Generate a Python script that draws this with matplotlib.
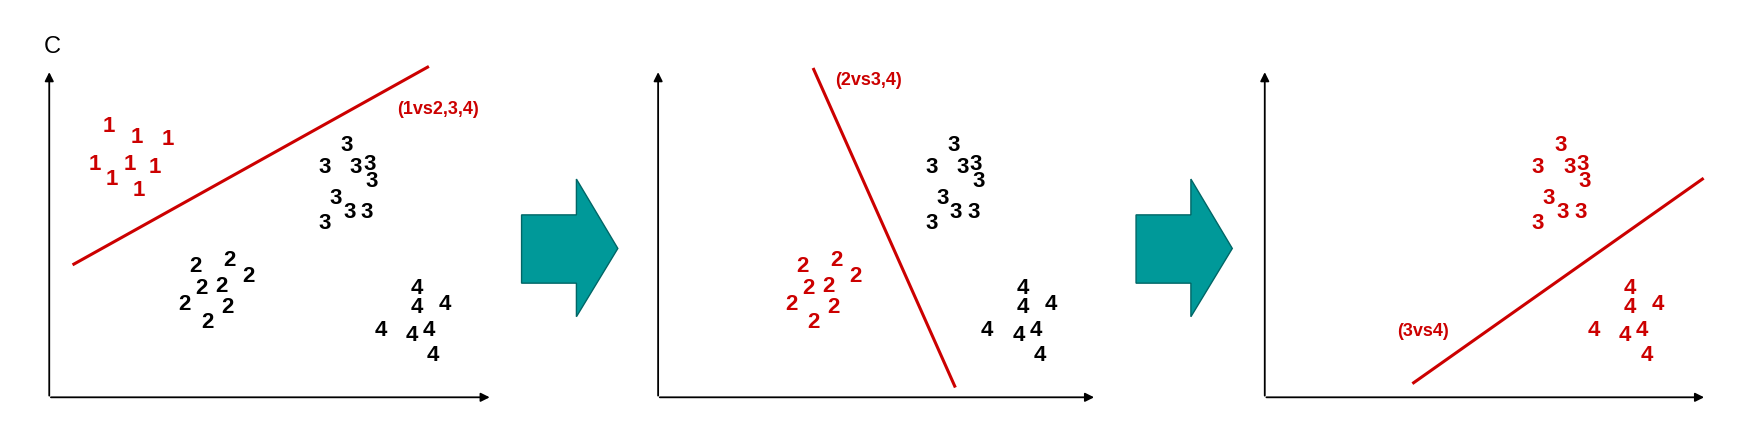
import matplotlib.pyplot as plt
from matplotlib.patches import Polygon

RED = '#cc0000'
TEAL = '#009999'

# cluster positions (reference coordinates, panel 1)
ones = [(97,113),(122,123),(150,125),(85,147),(100,160),(116,147),(138,150),(124,170)]
threes = [(310,130),(290,150),(318,150),(330,147),(332,162),(300,177),(312,190),(328,190),(290,200)]
twos = [(175,238),(205,233),(222,247),(180,258),(198,256),(165,272),(185,288),(203,275)]
fours = [(372,258),(372,275),(397,272),(340,295),(368,300),(383,295),(387,318)]

panel_dx = [0, 542, 1084]
panels = [
    {'1': RED, '2': 'black', '3': 'black', '4': 'black'},
    {'2': RED, '3': 'black', '4': 'black'},
    {'3': RED, '4': RED},
]
clusters = {'1': ones, '2': twos, '3': threes, '4': fours}

lines = [((66,236),(382,60)), ((727,62),(853,345)), ((1263,342),(1521,160))]
labels = [("(1vs2,3,4)",(355,98)), ("(2vs3,4)",(746,72)), ("(3vs4)",(1248,296))]
origins = [(44,355,440), (588,355,980), (1130,355,1525)]
arrow_x = [466, 1015]

fig = plt.figure(figsize=(17.55,4.32), dpi=100)
ax = fig.add_axes([0,0,1,1])
ax.set_xlim(0,1568)
ax.set_ylim(386,0)
ax.axis('off')

for (x0,y0,x1) in origins:
    ax.annotate('', xy=(x0,62), xytext=(x0,y0+1),
                arrowprops=dict(arrowstyle='-|>', color='black', lw=1.3, mutation_scale=13))
    ax.annotate('', xy=(x1,y0), xytext=(x0-1,y0),
                arrowprops=dict(arrowstyle='-|>', color='black', lw=1.3, mutation_scale=13))

for dx, p in zip(panel_dx, panels):
    for k, c in p.items():
        for (x,y) in clusters[k]:
            ax.text(x+dx, y, k, color=c, fontsize=16, fontweight='bold',
                    family='Liberation Sans', ha='center', va='center')

for (a,b) in lines:
    ax.plot([a[0],b[0]],[a[1],b[1]], color=RED, lw=2.2)
for t,(x,y) in labels:
    ax.text(x, y, t, color=RED, fontsize=13, fontweight='bold',
            family='Liberation Sans', ha='left', va='center')

for x in arrow_x:
    pts = [(x,192),(x+49,192),(x+49,160),(x+86,222),(x+49,283),(x+49,253),(x,253)]
    ax.add_patch(Polygon(pts, closed=True, facecolor=TEAL, edgecolor='#006666', lw=1))

ax.text(47,42,'C', fontsize=17, family='Liberation Sans', ha='center', va='center')

fig.savefig('out.png')
